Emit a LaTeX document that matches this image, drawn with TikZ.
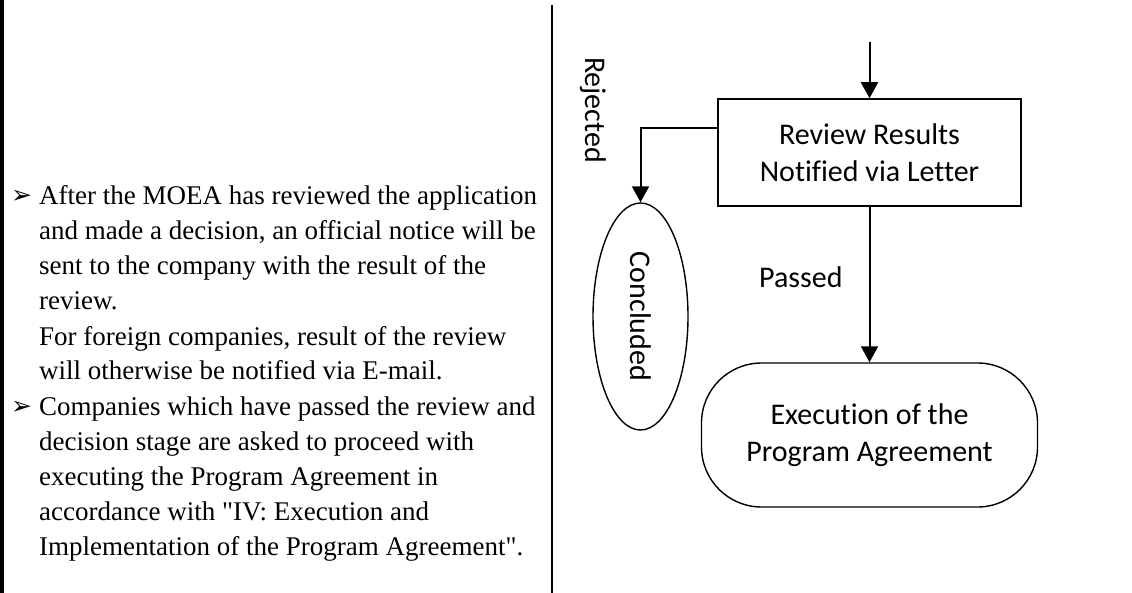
\documentclass[tikz,border=0pt]{standalone}
\usepackage{fontspec}
\setmainfont{Liberation Serif}
\newfontfamily\flowfont[Ligatures=NoCommon]{Carlito}
\newfontfamily\dingfont{DejaVu Sans}
\usetikzlibrary{arrows.meta}
\usetikzlibrary{shapes.geometric}
\newcommand\notefont{\fontsize{27}{35}\selectfont}
\newcommand\chartfont{\flowfont\fontsize{30}{37}\selectfont}
\newcommand\pointer{{\dingfont\fontsize{25}{25}\selectfont ➢}}
\tikzstyle{flow}=[line width=2pt,-{Triangle[length=16pt,width=17pt]}]
\tikzstyle{stepbox}=[draw,line width=1.5pt,minimum width=303pt,minimum height=107pt,inner sep=0pt,align=center,font=\chartfont]
\tikzstyle{endcap}=[draw,line width=1.4pt,rounded corners=60pt,minimum width=336pt,minimum height=144pt,inner sep=0pt,align=center,font=\chartfont]
\tikzstyle{stopoval}=[draw,ellipse,line width=1.4pt,inner sep=0pt,minimum width=227pt,minimum height=95pt,rotate=-90,font=\chartfont]
\tikzstyle{lbl}=[inner sep=0pt,font=\chartfont]
\tikzstyle{noteline}=[anchor=base west,inner sep=0pt,font=\notefont]

\begin{document}
\begin{tikzpicture}[x=1pt,y=-1pt]
	\useasboundingbox (0,0) rectangle (1132,593);
	% rules
	\draw[line width=4.5pt] (2,0) -- (2,593);
	\draw[line width=2pt] (552,5) -- (552,593);
	% notes
	\foreach \txt [count=\i] in {{After the MOEA has reviewed the application},
	    {and made a decision, an official notice will be},
	    {sent to the company with the result of the},
	    {review.},
	    {For foreign companies, result of the review},
	    {will otherwise be notified via E-mail.},
	    {Companies which have passed the review and},
	    {decision stage are asked to proceed with},
	    {executing the Program Agreement in},
	    {accordance with \textquotedbl IV: Execution and},
	    {Implementation of the Program Agreement\textquotedbl.}}
	  \node[noteline] (note\i) at (39,170+35*\i) {\txt};
	\node[noteline] (markA) at (11,204) {\pointer};
	\node[noteline] (markB) at (11,414) {\pointer};
	% flow
	\coordinate (entry) at (869.5,42);
	\node[stepbox] (notice) at (869.5,152.5) {Review Results\\Notified via Letter};
	\node[stopoval] (concl) at (640.5,316.5) {Concluded};
	\node[endcap] (exec) at (869.5,435) {Execution of the\\Program Agreement};
	\node[lbl,rotate=-90] (rejected) at (593,110) {Rejected};
	\draw[flow] (entry) -- (notice);
	\draw[flow] ([yshift=24.5pt]notice.west) -| (concl.west);
	\draw[flow] (notice) --node[lbl,pos=0.45,left=26pt] (passed) {Passed} (exec);
\end{tikzpicture}
\end{document}
